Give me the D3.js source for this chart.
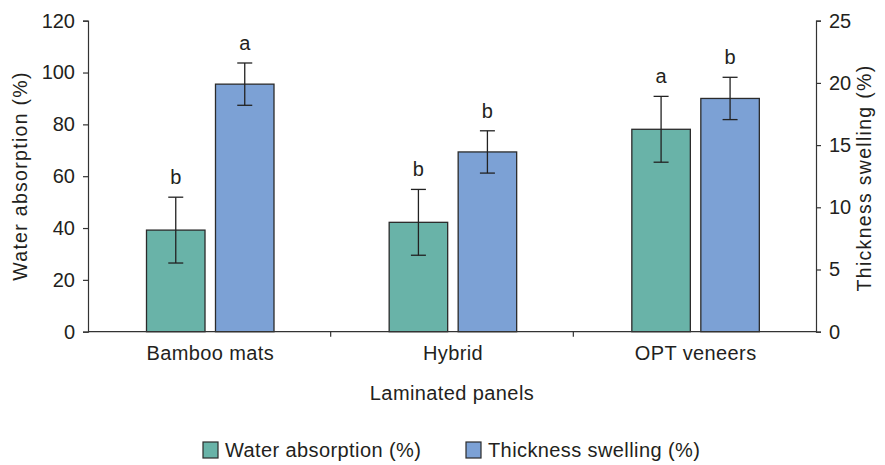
<!DOCTYPE html>
<html>
<head>
<meta charset="utf-8">
<script src="https://cdn.jsdelivr.net/npm/d3@7"></script>
<style>
  body { margin: 0; background: #fff; }
  text { font-family: "Liberation Sans", Arial, sans-serif; fill: #231f20; }
</style>
</head>
<body>
<div id="chart"></div>
<script>
// data
const panels = ["Bamboo mats", "Hybrid", "OPT veneers"];
const seriesNames = ["Water absorption (%)", "Thickness swelling (%)"];
const waterAbsorption = [39.2, 42.2, 78.1];
const waterAbsorptionErr = [12.7, 12.7, 12.7];
const thicknessSwelling = [19.9, 14.45, 18.75];
const thicknessSwellingErr = [1.7, 1.7, 1.7];
const waLetters = ["b", "b", "a"];
const tsLetters = ["a", "b", "b"];
const leftTicks = [0, 20, 40, 60, 80, 100, 120];
const rightTicks = [0, 5, 10, 15, 20, 25];

const colors = ["#69b3a8", "#7ca1d5"];

const width = 885, height = 465;
const margin = { left: 88, right: 69, top: 20.7, bottom: 133.3 };

const svg = d3.select("#chart").append("svg")
  .attr("width", width)
  .attr("height", height);

const x0 = d3.scaleBand()
  .domain(panels)
  .range([margin.left, width - margin.right])
  .padding(0);
const x1 = d3.scaleBand()
  .domain(seriesNames)
  .range([58.5, 186])
  .paddingInner(0.152);
const yL = d3.scaleLinear().domain([0, 120]).range([height - margin.bottom, margin.top]);
const yR = d3.scaleLinear().domain([0, 25]).range([height - margin.bottom, margin.top]);

// bars
const rows = panels.map((p, i) => ([
  { panel: p, s: seriesNames[0], v: waterAbsorption[i], e: waterAbsorptionErr[i], l: waLetters[i], y: yL, c: colors[0] },
  { panel: p, s: seriesNames[1], v: thicknessSwelling[i], e: thicknessSwellingErr[i], l: tsLetters[i], y: yR, c: colors[1] },
]));

const g = svg.append("g")
  .selectAll("g")
  .data(rows)
  .enter()
  .append("g")
  .attr("transform", (d, i) => `translate(${x0(panels[i])},0)`);

g.selectAll("rect")
  .data((d) => d)
  .enter()
  .append("rect")
  .attr("x", (d) => x1(d.s))
  .attr("width", x1.bandwidth())
  .attr("y", (d) => d.y(d.v))
  .attr("height", (d) => d.y(0) - d.y(d.v))
  .attr("fill", (d) => d.c)
  .attr("stroke", "#2b2b2b")
  .attr("stroke-width", 1.3);

// error bars
const eb = g.selectAll("g.err")
  .data((d) => d)
  .enter()
  .append("g")
  .attr("class", "err")
  .attr("stroke", "#222")
  .attr("stroke-width", 1.3);
const cx = (d) => x1(d.s) + x1.bandwidth() / 2;
eb.append("line")
  .attr("x1", cx).attr("x2", cx)
  .attr("y1", (d) => d.y(d.v + d.e))
  .attr("y2", (d) => d.y(d.v - d.e));
eb.append("line")
  .attr("x1", (d) => cx(d) - 7.5).attr("x2", (d) => cx(d) + 7.5)
  .attr("y1", (d) => d.y(d.v + d.e))
  .attr("y2", (d) => d.y(d.v + d.e));
eb.append("line")
  .attr("x1", (d) => cx(d) - 7.5).attr("x2", (d) => cx(d) + 7.5)
  .attr("y1", (d) => d.y(d.v - d.e))
  .attr("y2", (d) => d.y(d.v - d.e));

// significance letters
g.selectAll("text.sig")
  .data((d) => d)
  .enter()
  .append("text")
  .attr("class", "sig")
  .text((d) => d.l)
  .attr("x", cx)
  .attr("y", (d) => d.y(d.v + d.e) - 13)
  .attr("text-anchor", "middle")
  .style("font-size", "20px");

// axes
function styleAxis(sel) {
  sel.select(".domain").attr("stroke", "#333").attr("stroke-width", 1.2);
  sel.selectAll(".tick line").attr("stroke", "#333").attr("stroke-width", 1.2);
  sel.selectAll(".tick text").style("font-size", "20px").attr("fill", "#231f20")
    .style("font-family", '"Liberation Sans", Arial, sans-serif');
}

svg.append("g")
  .attr("transform", `translate(${margin.left},0)`)
  .call(d3.axisLeft(yL).tickValues(leftTicks).tickSize(5).tickSizeOuter(5).tickPadding(8))
  .call(styleAxis);

svg.append("g")
  .attr("transform", `translate(${width - margin.right},0)`)
  .call(d3.axisRight(yR).tickValues(rightTicks).tickSize(5).tickSizeOuter(5).tickPadding(8))
  .call(styleAxis);

// category axis: ticks sit between the groups
const xAxis = svg.append("g")
  .attr("transform", `translate(0,${yL(0)})`);
xAxis.append("line")
  .attr("x1", margin.left).attr("x2", width - margin.right)
  .attr("stroke", "#333").attr("stroke-width", 1.2);
xAxis.selectAll("line.sep")
  .data(panels.slice(1))
  .enter()
  .append("line")
  .attr("class", "sep")
  .attr("x1", (d) => x0(d)).attr("x2", (d) => x0(d))
  .attr("y1", 0).attr("y2", 5)
  .attr("stroke", "#333").attr("stroke-width", 1.2);
xAxis.selectAll("text")
  .data(panels)
  .enter()
  .append("text")
  .text((d) => d)
  .attr("x", (d) => x0(d) + x0.bandwidth() / 2 + 1)
  .attr("y", 28.5)
  .attr("text-anchor", "middle")
  .style("font-size", "20px")
  .style("letter-spacing", "0.4px");

// axis titles
svg.append("text")
  .text("Laminated panels")
  .attr("x", (margin.left + width - margin.right) / 2)
  .attr("y", 400)
  .attr("text-anchor", "middle")
  .style("font-size", "20px")
  .style("letter-spacing", "0.4px");

svg.append("text")
  .text("Water absorption (%)")
  .attr("transform", `translate(27,176) rotate(-90)`)
  .attr("text-anchor", "middle")
  .style("font-size", "19.5px")
  .style("letter-spacing", "1.3px");

svg.append("text")
  .text("Thickness swelling (%)")
  .attr("transform", `translate(871,178) rotate(-90)`)
  .attr("text-anchor", "middle")
  .style("font-size", "19.5px")
  .style("letter-spacing", "1.3px");

// legend
const legendX = [203, 466];
const lg = svg.append("g")
  .selectAll("g")
  .data(seriesNames)
  .enter()
  .append("g")
  .attr("transform", (d, i) => `translate(${legendX[i]},442)`);
lg.append("rect")
  .attr("width", 15).attr("height", 16)
  .attr("fill", (d, i) => colors[i])
  .attr("stroke", "#2b2b2b")
  .attr("stroke-width", 1.2);
lg.append("text")
  .text((d) => d)
  .attr("x", 22)
  .attr("y", 15)
  .style("font-size", "20px")
  .style("letter-spacing", "0.4px");
</script>
</body>
</html>
